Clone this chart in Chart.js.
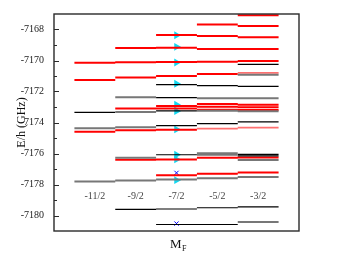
<!DOCTYPE html>
<html>
<head>
<meta charset="utf-8">
<script src="https://cdn.jsdelivr.net/npm/chart.js"></script>
<style>
  html, body { margin: 0; padding: 0; background: #fff; }
</style>
</head>
<body>
<canvas id="levels" width="352" height="272"></canvas>
<script>
/* ------------------------------------------- */
/* DATA -------------------------------------- */
/* ------------------------------------------- */
// M_F columns and their labels
let mF = [-5.5, -4.5, -3.5, -2.5, -1.5];
let mFLabels = ['-11/2', '-9/2', '-7/2', '-5/2', '-3/2'];
let yTicks = [-7180, -7178, -7176, -7174, -7172, -7170, -7168];

// level energies (GHz), one list per M_F column
let redLevels = [
  [-7170.15, -7171.25, -7174.6],
  [-7169.2, -7170.12, -7171.1, -7173.1, -7174.5, -7176.4],
  [-7168.35, -7169.18, -7170.1, -7171.0, -7172.93, -7173.1, -7174.47, -7176.38, -7177.4],
  [-7167.68, -7168.42, -7169.25, -7170.08, -7170.87, -7172.8, -7172.98, -7173.18, -7176.28, -7177.3],
  [-7167.08, -7167.78, -7168.5, -7169.25, -7170.03, -7172.86, -7173.02, -7173.2, -7176.25, -7177.22]
];
let pinkLevels = [
  [], [], [],
  [-7174.4],
  [-7170.8, -7174.33]
];
let blackLevels = [
  [-7173.35],
  [-7179.6],
  [-7171.55, -7172.39, -7173.25, -7174.2, -7176.08, -7179.58, -7180.58],
  [-7171.62, -7174.07, -7179.5, -7180.58],
  [-7170.25, -7171.67, -7173.96, -7176.05, -7176.15, -7179.44]
];
let grayLevels = [
  [-7174.37, -7177.8],
  [-7172.37, -7173.33, -7174.3, -7176.27, -7177.74],
  [-7177.68],
  [-7172.43, -7173.24, -7175.98, -7176.08, -7177.6],
  [-7170.92, -7172.43, -7173.28, -7176.42, -7177.52, -7180.42]
];

// measured points, all at M_F = -7/2
let triangleE = [-7168.37, -7169.12, -7170.13, -7171.5, -7172.85, -7173.27, -7174.45, -7176.08, -7176.38, -7177.72];
let crossE = [-7177.25, -7180.52];

/* ------------------------------------------- */
/* HELPERS ----------------------------------- */
/* ------------------------------------------- */
// each level is a short flat segment across its column, split by nulls
function segments(levels) {
  let pts = [];
  levels.forEach((col, i) => {
    col.forEach(e => {
      pts.push({x: mF[i] - 0.5, y: e});
      pts.push({x: mF[i] + 0.5, y: e});
      pts.push({x: mF[i], y: null});
    });
  });
  return pts;
}

function levelSet(levels, color, width) {
  return {
    type: 'line',
    data: segments(levels),
    borderColor: color,
    borderWidth: width,
    pointRadius: 0,
    spanGaps: false,
    fill: false
  };
}

/* ------------------------------------------- */
/* FRAME, TICKS, LABELS ---------------------- */
/* ------------------------------------------- */
let frame = {
  id: 'frame',
  afterDraw(chart) {
    let ctx = chart.ctx;
    let a = chart.chartArea;
    let x = chart.scales.x;
    let y = chart.scales.y;
    ctx.save();
    ctx.strokeStyle = '#2a2a2a';
    ctx.lineWidth = 1.4;
    ctx.strokeRect(a.left, a.top, a.right - a.left, a.bottom - a.top);

    // inward ticks on the left axis
    ctx.lineWidth = 1;
    for (let v = -7180; v <= -7168; v++) {
      let py = Math.round(y.getPixelForValue(v)) + 0.5;
      let len = (v % 2 === 0) ? 5 : 3;
      ctx.beginPath();
      ctx.moveTo(a.left, py);
      ctx.lineTo(a.left + len, py);
      ctx.stroke();
    }

    // column labels inside the plot
    ctx.fillStyle = '#444';
    ctx.font = '10px "Liberation Serif"';
    ctx.textAlign = 'center';
    ctx.textBaseline = 'middle';
    mF.forEach((m, i) => {
      ctx.fillText(mFLabels[i], x.getPixelForValue(m), y.getPixelForValue(-7178.75));
    });

    // M_F axis title
    let cx = (a.left + a.right) / 2;
    ctx.fillStyle = '#111';
    ctx.textBaseline = 'alphabetic';
    ctx.textAlign = 'right';
    ctx.font = '13px "Liberation Serif"';
    ctx.fillText('M', cx + 5, a.bottom + 17);
    ctx.textAlign = 'left';
    ctx.font = '8px "Liberation Serif"';
    ctx.fillText('F', cx + 5.5, a.bottom + 20);
    ctx.restore();
  }
};

/* ------------------------------------------- */
/* CHART ------------------------------------- */
/* ------------------------------------------- */
let levelsCont = document.getElementById('levels').getContext('2d');
let levelsChart = new Chart(levelsCont, {
  type: 'line',
  data: {
    datasets: [
      levelSet(grayLevels, '#777', 2),
      levelSet(blackLevels, '#000', 1.2),
      levelSet(pinkLevels, '#ff7070', 1.8),
      levelSet(redLevels, '#ff0000', 2),
      {
        type: 'line',
        showLine: false,
        data: triangleE.map(e => ({x: -3.5, y: e})),
        pointStyle: 'triangle',
        rotation: 90,
        pointRadius: 4.5,
        backgroundColor: '#10d8f0',
        borderColor: '#10d8f0',
        borderWidth: 0
      },
      {
        type: 'line',
        showLine: false,
        data: crossE.map(e => ({x: -3.5, y: e})),
        pointStyle: 'crossRot',
        pointRadius: 3,
        borderColor: '#0000ff',
        borderWidth: 1
      }
    ]
  },
  options: {
    responsive: false,
    animation: false,
    devicePixelRatio: 1,
    layout: {
      padding: {top: 14, right: 53, bottom: 41, left: 0}
    },
    plugins: {
      legend: {display: false},
      tooltip: {enabled: false}
    },
    scales: {
      x: {
        type: 'linear',
        display: false,
        min: -6.5,
        max: -0.5
      },
      y: {
        type: 'linear',
        min: -7181,
        max: -7167,
        grid: {display: false},
        border: {display: false},
        ticks: {
          padding: 2,
          color: '#222',
          font: {family: 'Liberation Serif', size: 10},
          callback: v => String(v)
        },
        title: {
          display: true,
          text: 'E/h (GHz)',
          color: '#111',
          font: {family: 'Liberation Serif', size: 12},
          padding: {top: 15, bottom: 0}
        },
        afterBuildTicks: scale => {
          scale.ticks = yTicks.map(v => ({value: v}));
        },
        afterFit: scale => {
          scale.width = 54;
        }
      }
    }
  },
  plugins: [frame]
});
</script>
</body>
</html>
